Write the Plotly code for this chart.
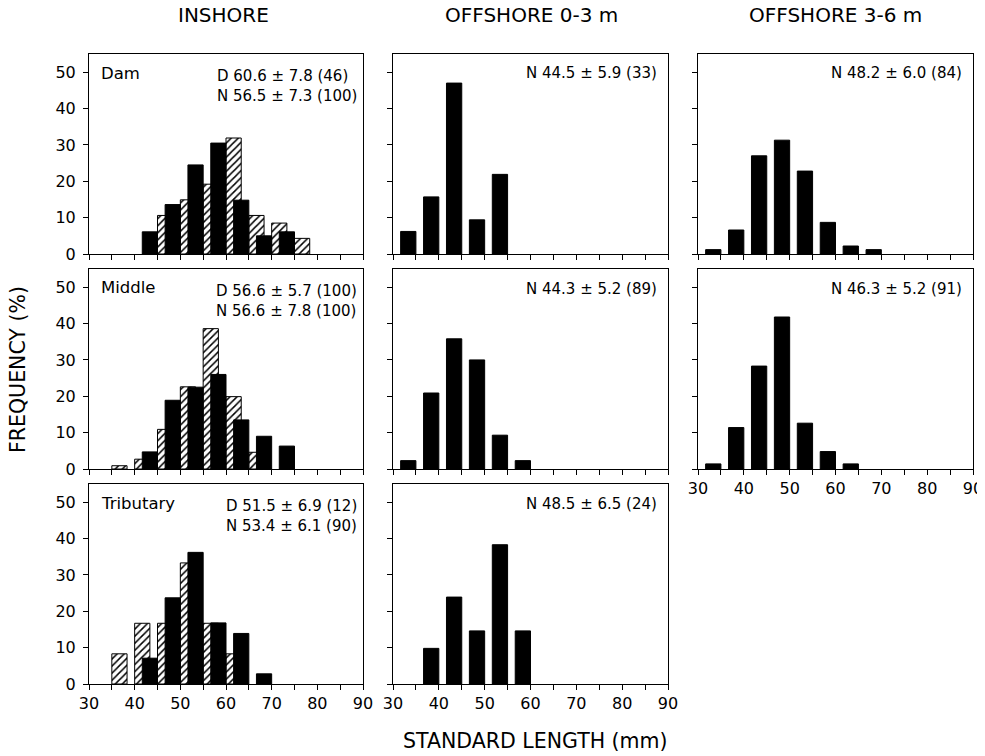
import plotly.graph_objects as go

# ---------------- data ----------------
# Inshore: D = hatched, N = solid (bin left edges in mm, frequency %)
dam_d_bins = [45, 50, 55, 60, 65, 70, 75]
dam_d_vals = [10.6, 14.9, 19.2, 31.9, 10.6, 8.5, 4.3]
dam_n_bins = [40, 45, 50, 55, 60, 65, 70]
dam_n_vals = [6.1, 13.6, 24.5, 30.5, 14.8, 5.0, 6.1]

mid_d_bins = [35, 40, 45, 50, 55, 60, 65]
mid_d_vals = [0.9, 2.7, 10.9, 22.6, 38.6, 19.9, 4.6]
mid_n_bins = [40, 45, 50, 55, 60, 65, 70]
mid_n_vals = [4.7, 18.9, 22.5, 26.0, 13.5, 9.0, 6.3]

trib_d_bins = [35, 40, 45, 50, 55, 60]
trib_d_vals = [8.3, 16.7, 16.7, 33.3, 16.7, 8.3]
trib_n_bins = [40, 45, 50, 55, 60, 65]
trib_n_vals = [7.1, 23.7, 36.2, 16.8, 13.9, 2.8]

# Offshore 0-3 m
off03_r1_bins = [30, 35, 40, 45, 50]
off03_r1_vals = [6.2, 15.7, 47.0, 9.4, 21.9]
off03_r2_bins = [30, 35, 40, 45, 50, 55]
off03_r2_vals = [2.3, 20.9, 35.8, 30.0, 9.3, 2.3]
off03_r3_bins = [35, 40, 45, 50, 55]
off03_r3_vals = [9.8, 23.9, 14.6, 38.3, 14.6]

# Offshore 3-6 m
off36_r1_bins = [30, 35, 40, 45, 50, 55, 60, 65]
off36_r1_vals = [1.2, 6.6, 27.0, 31.3, 22.8, 8.7, 2.2, 1.2]
off36_r2_bins = [30, 35, 40, 45, 50, 55, 60]
off36_r2_vals = [1.4, 11.4, 28.3, 41.8, 12.6, 4.8, 1.4]

col_titles = ["INSHORE", "OFFSHORE 0-3 m", "OFFSHORE 3-6 m"]
site_labels = ["Dam", "Middle", "Tributary"]
inshore_stats = [
    ["D 60.6 ± 7.8 (46)", "N 56.5 ± 7.3 (100)"],
    ["D 56.6 ± 5.7 (100)", "N 56.6 ± 7.8 (100)"],
    ["D 51.5 ± 6.9 (12)", "N 53.4 ± 6.1 (90)"],
]
off03_stats = ["N 44.5 ± 5.9 (33)", "N 44.3 ± 5.2 (89)", "N 48.5 ± 6.5 (24)"]
off36_stats = ["N 48.2 ± 6.0 (84)", "N 46.3 ± 5.2 (91)"]

x_ticks = list(range(30, 95, 5))
x_ticktext = [str(v) if v % 10 == 0 else "" for v in x_ticks]
y_ticks = [0, 10, 20, 30, 40, 50]

# ---------------- layout geometry (window pixels) ----------------
PAGE_OFF = 8            # default body margin of the html page
W, H = 985 - PAGE_OFF, 756 - PAGE_OFF
FONT = "DejaVu Sans"
cols_px = [(89, 363), (393, 668), (698, 973)]
rows_px = [(54, 254), (269, 469), (484, 684)]
title_centers = [223, 531, 835]


def px_x(p):
    return (p - PAGE_OFF) / W


def px_y(p):
    return 1 - (p - PAGE_OFF) / H


fig = go.Figure()

BAR_W = 10 / 3
OFF_D = 0.0
OFF_N = 5 / 3


def add_d(ax, bins, vals):
    fig.add_trace(go.Bar(
        x=bins, y=vals, width=BAR_W, offset=OFF_D,
        xaxis="x" + ax, yaxis="y" + ax,
        marker=dict(color="white",
                    pattern=dict(shape="/", fgcolor="black", bgcolor="white",
                                 size=5, solidity=0.3),
                    line=dict(color="black", width=1)),
        hoverinfo="skip"))


def add_n(ax, bins, vals):
    fig.add_trace(go.Bar(
        x=bins, y=vals, width=BAR_W, offset=OFF_N,
        xaxis="x" + ax, yaxis="y" + ax,
        marker=dict(color="black", line=dict(color="black", width=1)),
        hoverinfo="skip"))


# panel index -> (col, row)
panels = {1: (0, 0), 2: (1, 0), 3: (2, 0),
          4: (0, 1), 5: (1, 1), 6: (2, 1),
          7: (0, 2), 8: (1, 2)}

add_d("", dam_d_bins, dam_d_vals)
add_n("", dam_n_bins, dam_n_vals)
add_n("2", off03_r1_bins, off03_r1_vals)
add_n("3", off36_r1_bins, off36_r1_vals)
add_d("4", mid_d_bins, mid_d_vals)
add_n("4", mid_n_bins, mid_n_vals)
add_n("5", off03_r2_bins, off03_r2_vals)
add_n("6", off36_r2_bins, off36_r2_vals)
add_d("7", trib_d_bins, trib_d_vals)
add_n("7", trib_n_bins, trib_n_vals)
add_n("8", off03_r3_bins, off03_r3_vals)

show_x_labels = {6, 7, 8}
show_y_labels = {1, 4, 7}

layout_axes = {}
for i, (c, r) in panels.items():
    key = "" if i == 1 else str(i)
    x0, x1 = cols_px[c]
    y0, y1 = rows_px[r]
    layout_axes["xaxis" + key] = dict(
        domain=[px_x(x0), px_x(x1)], range=[30, 90], anchor="y" + key,
        automargin=False,
        showline=True, mirror=True, linecolor="black", linewidth=1,
        ticks="outside", ticklen=5, tickwidth=1, tickcolor="black",
        tickmode="array", tickvals=x_ticks, ticktext=x_ticktext,
        showticklabels=i in show_x_labels, showgrid=False, zeroline=False,
        tickfont=dict(family=FONT, size=16, color="black"), fixedrange=True)
    layout_axes["yaxis" + key] = dict(
        domain=[px_y(y1), px_y(y0)], range=[0, 55], anchor="x" + key,
        automargin=False,
        showline=True, mirror=True, linecolor="black", linewidth=1,
        ticks="outside", ticklen=5, tickwidth=1, tickcolor="black",
        tickmode="array", tickvals=y_ticks,
        showticklabels=i in show_y_labels, showgrid=False, zeroline=False,
        ticklabelstandoff=4,
        tickfont=dict(family=FONT, size=16, color="black"), fixedrange=True)

annotations = []
# column titles
for c, t in enumerate(col_titles):
    annotations.append(dict(text=t, x=px_x(title_centers[c]),
                            y=px_y(15), xref="paper", yref="paper",
                            xanchor="center", yanchor="middle", showarrow=False,
                            font=dict(family=FONT, size=20, color="black")))
# axis titles
annotations.append(dict(text="STANDARD LENGTH (mm)", x=px_x(535), y=px_y(741),
                        xref="paper", yref="paper", xanchor="center",
                        yanchor="middle", showarrow=False,
                        font=dict(family=FONT, size=20.5, color="black")))
annotations.append(dict(text="FREQUENCY (%)", x=px_x(18), y=px_y(370),
                        xref="paper", yref="paper", xanchor="center",
                        yanchor="middle", textangle=-90, showarrow=False,
                        font=dict(family=FONT, size=20.5, color="black")))

# inshore labels and stats
for r in range(3):
    top = rows_px[r][0]
    annotations.append(dict(text=site_labels[r], x=px_x(cols_px[0][0] + 10),
                            y=px_y(top + 19), xref="paper", yref="paper",
                            xanchor="left", yanchor="middle", showarrow=False,
                            font=dict(family=FONT, size=16.5, color="black")))
    annotations.append(dict(text="<br>".join(inshore_stats[r]),
                            x=px_x(cols_px[0][1] - 5),
                            y=px_y(top + 12), xref="paper", yref="paper",
                            xanchor="right", yanchor="top", align="left",
                            showarrow=False, borderpad=0,
                            font=dict(family=FONT, size=15, color="black")))
for r, s in enumerate(off03_stats):
    annotations.append(dict(text=s, x=px_x(cols_px[1][1] - 9),
                            y=px_y(rows_px[r][0] + 19.5),
                            xref="paper", yref="paper", xanchor="right",
                            yanchor="middle", showarrow=False,
                            font=dict(family=FONT, size=15, color="black")))
for r, s in enumerate(off36_stats):
    annotations.append(dict(text=s, x=px_x(cols_px[2][1] - 9),
                            y=px_y(rows_px[r][0] + 19.5),
                            xref="paper", yref="paper", xanchor="right",
                            yanchor="middle", showarrow=False,
                            font=dict(family=FONT, size=15, color="black")))

fig.update_layout(
    template="none",
    width=W, height=H, margin=dict(l=0, r=0, t=0, b=0),
    paper_bgcolor="white", plot_bgcolor="white",
    barmode="overlay", showlegend=False,
    font=dict(family=FONT, color="black"),
    annotations=annotations, **layout_axes)

fig.write_html("out.html")
